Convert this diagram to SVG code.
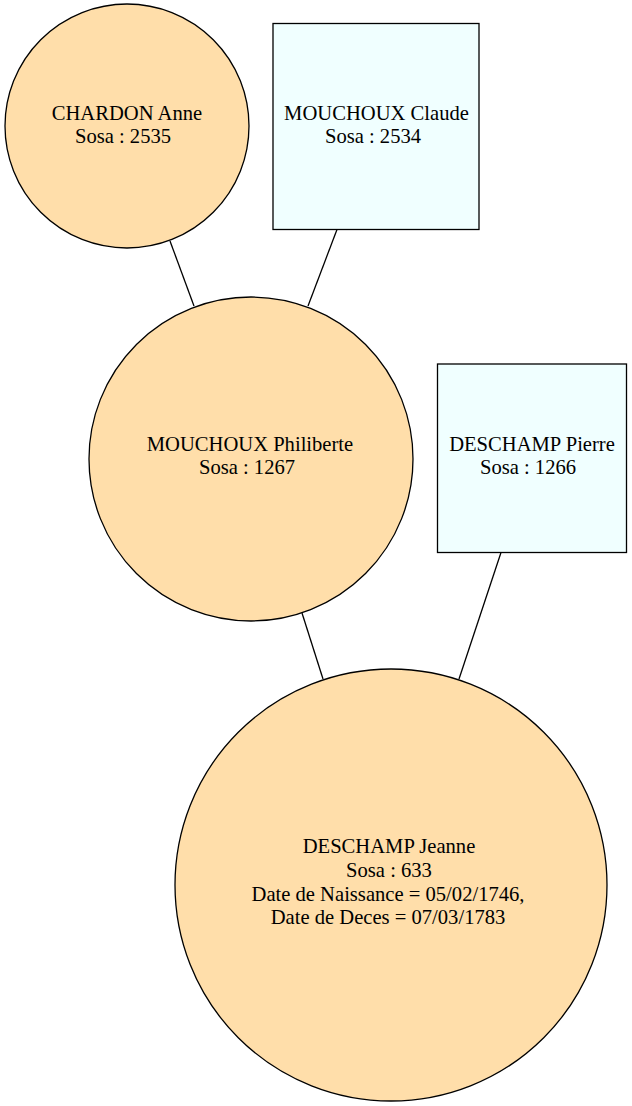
<svg xmlns="http://www.w3.org/2000/svg" width="632" height="1106" viewBox="0 0 632 1106">
<style>
.f{fill:#ffdeaa;stroke:#000;stroke-width:1.3}
.m{fill:#f0ffff;stroke:#000;stroke-width:1.3}
.e{stroke:#000;stroke-width:1.3;fill:none}
text{font-family:"Liberation Serif","Times New Roman",serif;font-size:20.6px;text-anchor:middle;fill:#000}
</style>
<rect width="632" height="1106" fill="#fff"/>
<g id="edges">
<line class="e" x1="170" y1="241" x2="194" y2="306"/>
<line class="e" x1="337" y1="229.5" x2="308" y2="306"/>
<line class="e" x1="302" y1="613" x2="323" y2="679"/>
<line class="e" x1="501" y1="552.5" x2="459" y2="679"/>
</g>
<g id="chardon_anne">
<circle class="f" cx="127" cy="126" r="122"/>
<text x="127" y="120">CHARDON Anne</text>
<text x="123" y="143">Sosa : 2535</text>
</g>
<g id="mouchoux_claude">
<rect class="m" x="273" y="23.5" width="206" height="206"/>
<text x="376.5" y="120">MOUCHOUX Claude</text>
<text x="373" y="143">Sosa : 2534</text>
</g>
<g id="mouchoux_philiberte">
<circle class="f" cx="251" cy="459" r="162"/>
<text x="250" y="451">MOUCHOUX Philiberte</text>
<text x="247" y="474">Sosa : 1267</text>
</g>
<g id="deschamp_pierre">
<rect class="m" x="437.5" y="364" width="189" height="188.5"/>
<text x="532" y="451">DESCHAMP Pierre</text>
<text x="528" y="474">Sosa : 1266</text>
</g>
<g id="deschamp_jeanne">
<circle class="f" cx="391" cy="885" r="216"/>
<text x="389" y="853">DESCHAMP Jeanne</text>
<text x="389" y="877">Sosa : 633</text>
<text x="388" y="901">Date de Naissance = 05/02/1746,</text>
<text x="388" y="924">Date de Deces = 07/03/1783</text>
</g>
</svg>
